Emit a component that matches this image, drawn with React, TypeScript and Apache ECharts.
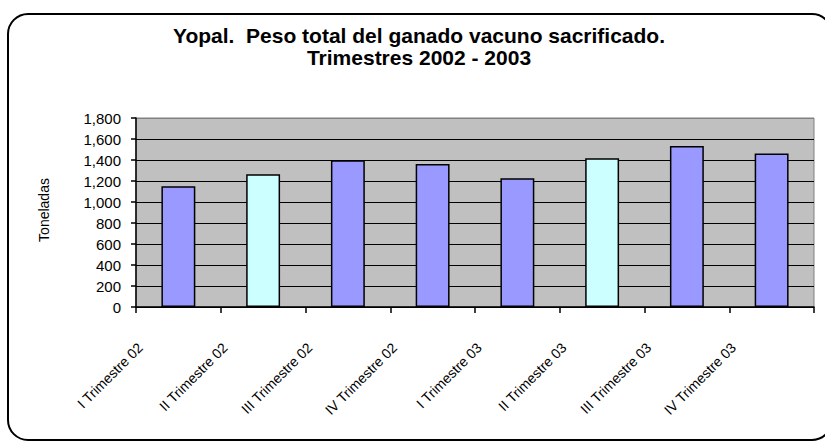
import React, { useEffect, useRef } from "react";
import * as echarts from "echarts";

const categories = [
  "I Trimestre 02",
  "II Trimestre 02",
  "III Trimestre 02",
  "IV Trimestre 02",
  "I Trimestre 03",
  "II Trimestre 03",
  "III Trimestre 03",
  "IV Trimestre 03",
];
const values = [1150, 1265, 1397, 1361, 1227, 1416, 1534, 1461];
const barColors = ["#9999FF", "#CCFFFF", "#9999FF", "#9999FF", "#9999FF", "#CCFFFF", "#9999FF", "#9999FF"];
const titleLines = ["Yopal.  Peso total del ganado vacuno sacrificado.", "Trimestres 2002 - 2003"];
const yAxisName = "Toneladas";

const FONT = "'Liberation Sans', Arial, sans-serif";

export default function App() {
  const ref = useRef<HTMLDivElement>(null);
  useEffect(() => {
    if (!ref.current) return;
    const chart = echarts.init(ref.current, null, { renderer: "svg" });
    const splitColors = Array.from({ length: 10 }, (_, i) => (i === 9 ? "#808080" : "#000000"));
    chart.setOption({
      animation: false,
      backgroundColor: "#ffffff",
      title: {
        text: titleLines.join("\n"),
        left: 419,
        textAlign: "center",
        top: 24,
        padding: 0,
        textStyle: {
          fontFamily: FONT,
          fontWeight: "bold",
          fontSize: 21,
          lineHeight: 22,
          color: "#000",
        },
      },
      graphic: [
        {
          type: "rect",
          shape: { x: 8, y: 14, width: 824, height: 426, r: 20 },
          style: { fill: "none", stroke: "#000", lineWidth: 2 },
          silent: true,
          z: 100,
        },
        {
          type: "text",
          x: 44,
          y: 210,
          rotation: Math.PI / 2,
          style: {
            text: yAxisName,
            fontFamily: FONT,
            fontSize: 14,
            fill: "#000",
            textAlign: "center",
            textVerticalAlign: "middle",
          },
        },
      ],
      grid: {
        left: 136,
        right: 11,
        top: 118,
        bottom: 134,
        show: true,
        backgroundColor: "#C0C0C0",
        borderColor: "#808080",
        borderWidth: 1,
      },
      xAxis: {
        type: "category",
        data: categories,
        axisLine: { lineStyle: { color: "#000", width: 1.5 } },
        axisTick: { show: true, length: 6, lineStyle: { color: "#000", width: 1.5 } },
        axisLabel: {
          rotate: 45,
          interval: 0,
          margin: 0,
          padding: [0, 54, 0, 0],
          fontFamily: FONT,
          fontSize: 14,
          color: "#000",
        },
      },
      yAxis: {
        type: "value",
        min: 0,
        max: 1800,
        interval: 200,
        axisLine: { show: true, lineStyle: { color: "#000", width: 1.5 } },
        axisTick: { show: true, length: 5, lineStyle: { color: "#000", width: 1.5 } },
        axisLabel: {
          margin: 15,
          fontFamily: FONT,
          fontSize: 15,
          color: "#000",
          formatter: (v: number) => v.toLocaleString("en-US"),
        },
        splitLine: { show: true, lineStyle: { color: splitColors, width: 1.2 } },
      },
      series: [
        {
          type: "bar",
          data: values.map((v, i) => ({ value: v, itemStyle: { color: barColors[i] } })),
          barWidth: "40%",
          itemStyle: { borderColor: "#000", borderWidth: 1.5 },
        },
      ],
    });
    return () => chart.dispose();
  }, []);
  return (
    <div
      ref={ref}
      style={{ position: "absolute", left: 0, top: 0, width: 825, height: 441 }}
    />
  );
}
